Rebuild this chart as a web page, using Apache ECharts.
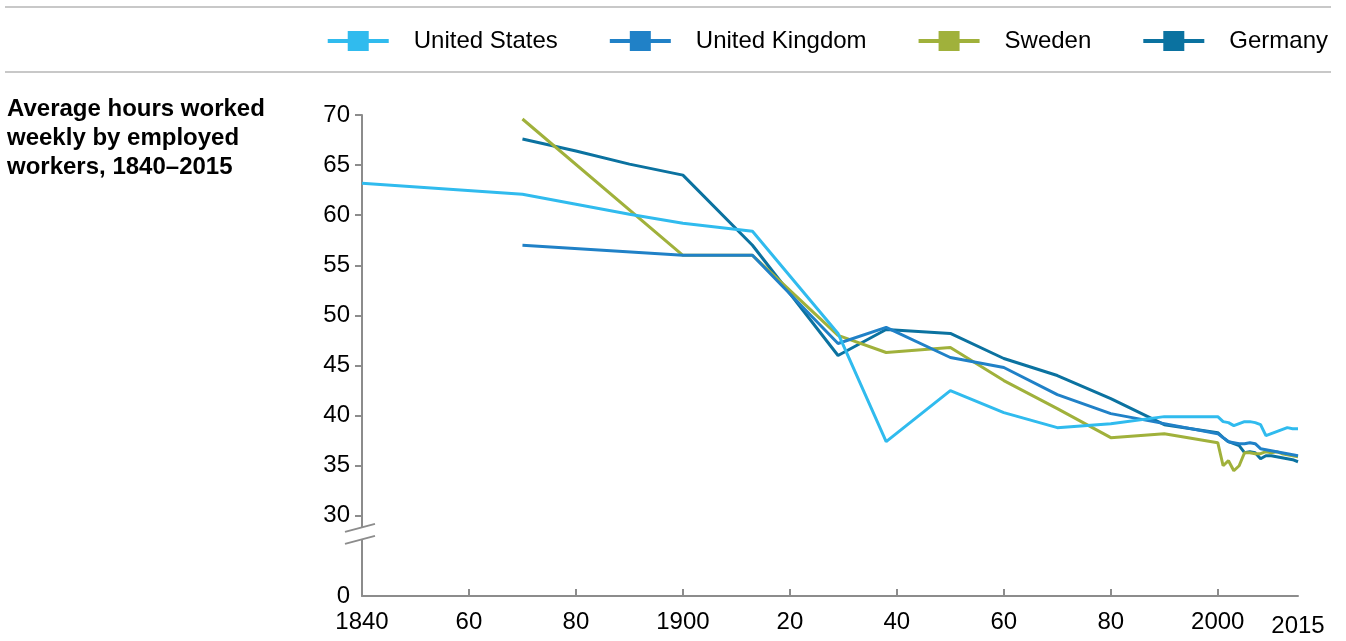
<!DOCTYPE html>
<html>
<head>
<meta charset="utf-8">
<title>Average hours worked</title>
<script src="https://cdn.jsdelivr.net/npm/echarts@6/dist/echarts.min.js"></script>
<style>
  html, body { margin: 0; padding: 0; background: #fff; }
  #chart { width: 1346px; height: 641px; }
</style>
</head>
<body>
<div id="chart"></div>
<script>
// 数据：每个国家的年份和每周工作小时
const usYears = [1840, 1870, 1880, 1890, 1900, 1913, 1929, 1938, 1950, 1960, 1970, 1980, 1990,
  2000, 2001, 2002, 2003, 2004, 2005, 2006, 2007, 2008, 2009, 2010, 2011, 2012, 2013, 2014, 2015]
const usHours = [63.2, 62.1, 61.1, 60.1, 59.2, 58.4, 48.2, 37.4, 42.5, 40.3, 38.8, 39.2, 39.9,
  39.9, 39.4, 39.3, 39.0, 39.2, 39.4, 39.4, 39.3, 39.1, 38.0, 38.2, 38.4, 38.6, 38.8, 38.7, 38.7]

const ukYears = [1870, 1900, 1913, 1929, 1938, 1950, 1960, 1970, 1980, 1990,
  2000, 2001, 2002, 2003, 2004, 2005, 2006, 2007, 2008, 2009, 2010, 2011, 2012, 2013, 2014, 2015]
const ukHours = [57.0, 56.0, 56.0, 47.2, 48.8, 45.8, 44.8, 42.1, 40.2, 39.2,
  38.2, 37.8, 37.4, 37.3, 37.2, 37.2, 37.3, 37.2, 36.7, 36.6, 36.5, 36.4, 36.3, 36.2, 36.1, 36.0]

const seYears = [1870, 1900, 1913, 1929, 1938, 1950, 1960, 1970, 1980, 1990,
  2000, 2001, 2002, 2003, 2004, 2005, 2006, 2007, 2008, 2009, 2010, 2011, 2012, 2013, 2014, 2015]
const seHours = [69.6, 56.0, 56.0, 48.0, 46.3, 46.8, 43.5, 40.7, 37.8, 38.2,
  37.3, 35.0, 35.5, 34.5, 35.0, 36.3, 36.3, 36.2, 36.2, 36.4, 36.3, 36.4, 36.2, 36.1, 36.0, 35.9]

const deYears = [1870, 1880, 1890, 1900, 1913, 1929, 1938, 1950, 1960, 1970, 1980, 1990,
  2000, 2001, 2002, 2003, 2004, 2005, 2006, 2007, 2008, 2009, 2010, 2011, 2012, 2013, 2014, 2015]
const deHours = [67.6, 66.4, 65.1, 64.0, 57.0, 46.0, 48.6, 48.2, 45.7, 44.0, 41.7, 39.1,
  38.3, 37.8, 37.4, 37.2, 37.0, 36.3, 36.4, 36.3, 35.7, 36.0, 36.0, 35.9, 35.8, 35.7, 35.6, 35.4]

const countries = ['United States', 'United Kingdom', 'Sweden', 'Germany']
const colors = ['#30bbee', '#2081c7', '#a0b13b', '#0b72a0']

// 坐标轴刻度
const xTickLabels = [1840, 1860, 1880, 1900, 1920, 1940, 1960, 1980, 2000, 2015]
const xTicks = [1860, 1880, 1900, 1920, 1940, 1960, 1980, 2000]
const yTickLabels = [22, 30, 35, 40, 45, 50, 55, 60, 65, 70] // 22 -> 显示为 "0"（断轴）
const yTicks = [30, 35, 40, 45, 50, 55, 60, 65, 70]

const FONT = 'Arial, "Liberation Sans", sans-serif'
const FS = 24
const AXIS_GRAY = '#8c8c8c'

function zip(xs, ys) {
  return xs.map((x, i) => [x, ys[i]])
}

const chart = echarts.init(document.getElementById('chart'))

const legendIcon = 'path://M0,8H20V0H41V8H61V12H41V20H20V12H0Z'

const option = {
  animation: false,
  color: colors,
  textStyle: { fontFamily: FONT },
  title: {
    text: 'Average hours worked\nweekly by employed\nworkers, 1840–2015',
    left: 2,
    top: 90,
    textStyle: {
      fontFamily: FONT,
      fontSize: FS,
      fontWeight: 'bold',
      lineHeight: 29,
      color: '#000'
    }
  },
  legend: {
    right: 13,
    top: 24,
    itemWidth: 61,
    itemHeight: 20,
    itemGap: 52,
    icon: legendIcon,
    textStyle: {
      fontFamily: FONT,
      fontSize: FS,
      color: '#000',
      padding: [0, 0, 0, 20]
    },
    data: countries
  },
  grid: {
    left: 362,
    right: 48,
    top: 115,
    bottom: 45,
    containLabel: false
  },
  xAxis: {
    type: 'value',
    min: 1840,
    max: 2015,
    splitLine: { show: false },
    axisLine: { lineStyle: { color: AXIS_GRAY, width: 2 } },
    axisTick: {
      inside: true,
      length: 7,
      customValues: xTicks,
      lineStyle: { color: AXIS_GRAY, width: 2 }
    },
    axisLabel: {
      customValues: xTickLabels,
      margin: 14,
      fontFamily: FONT,
      fontSize: FS,
      color: '#000',
      formatter: function (v) {
        if (v === 1840 || v === 1900 || v === 2000) return String(v)
        if (v === 2015) return '{e|2015}'
        return String(v).slice(2)
      },
      rich: {
        e: { fontFamily: FONT, fontSize: FS, color: '#000', padding: [4, 0, 0, 0] }
      }
    }
  },
  yAxis: {
    type: 'value',
    min: 22,
    max: 70,
    splitLine: { show: false },
    axisLine: { show: true, lineStyle: { color: AXIS_GRAY, width: 2 } },
    axisTick: {
      show: true,
      length: 7,
      customValues: yTicks,
      lineStyle: { color: AXIS_GRAY, width: 2 }
    },
    axisLabel: {
      customValues: yTickLabels,
      margin: 12,
      fontFamily: FONT,
      fontSize: FS,
      color: '#000',
      formatter: function (v) {
        return v === 22 ? '0' : String(v)
      }
    }
  },
  series: [
    { name: countries[0], data: zip(usYears, usHours) },
    { name: countries[1], data: zip(ukYears, ukHours) },
    { name: countries[2], data: zip(seYears, seHours) },
    { name: countries[3], data: zip(deYears, deHours) }
  ].map((s, i) => ({
    name: s.name,
    type: 'line',
    data: s.data,
    showSymbol: false,
    symbol: 'none',
    lineStyle: { width: 3, color: colors[i] },
    itemStyle: { color: colors[i] },
    z: 10 - i
  }))
}

chart.setOption(option)

// 断轴标记和上方的分隔线
const hi = chart.convertToPixel({ gridIndex: 0 }, [1840, 28.8])
const lo = chart.convertToPixel({ gridIndex: 0 }, [1840, 27.6])
const sepStyle = { stroke: '#c8c8c8', lineWidth: 2 }
const breakStyle = { stroke: AXIS_GRAY, lineWidth: 2 }
chart.setOption({
  graphic: [
    { type: 'line', z: 100, shape: { x1: 5, y1: 7, x2: 1331, y2: 7 }, style: sepStyle },
    { type: 'line', z: 100, shape: { x1: 5, y1: 72, x2: 1331, y2: 72 }, style: sepStyle },
    {
      type: 'polygon', z: 100,
      shape: { points: [[hi[0] - 17, hi[1] + 4], [hi[0] + 13, hi[1] - 4], [lo[0] + 13, lo[1] - 4], [lo[0] - 17, lo[1] + 4]] },
      style: { fill: '#fff' }
    },
    { type: 'line', z: 101, shape: { x1: hi[0] - 17, y1: hi[1] + 4, x2: hi[0] + 13, y2: hi[1] - 4 }, style: breakStyle },
    { type: 'line', z: 101, shape: { x1: lo[0] - 17, y1: lo[1] + 4, x2: lo[0] + 13, y2: lo[1] - 4 }, style: breakStyle }
  ]
})
</script>
</body>
</html>
